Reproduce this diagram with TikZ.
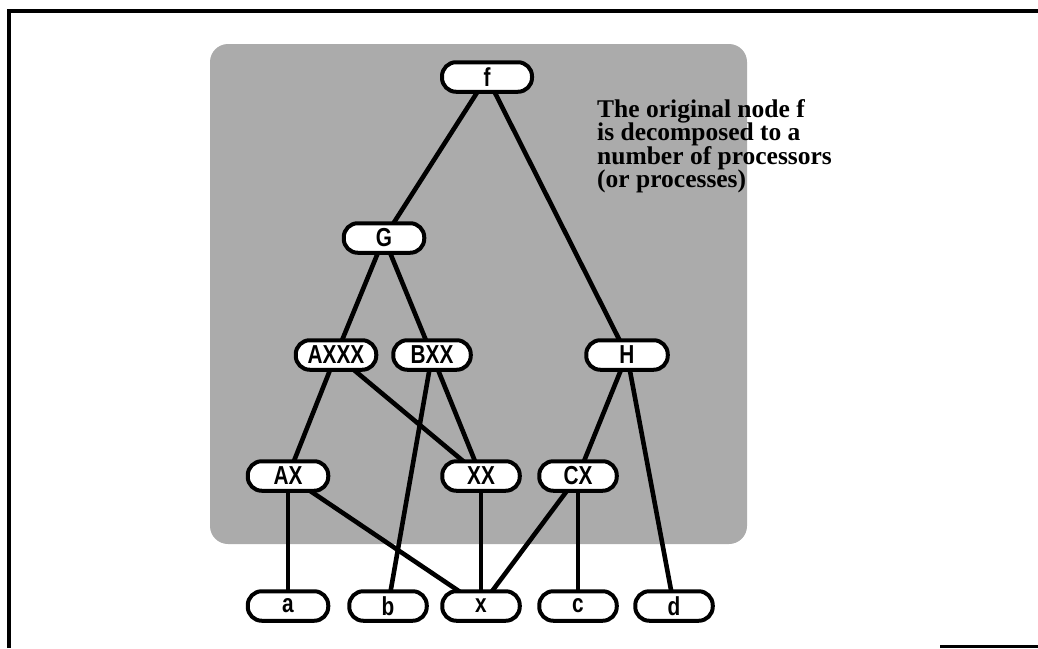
\documentclass[tikz,border=0pt]{standalone}
\usepackage{fontspec}
\setmainfont{Liberation Serif}
\newfontfamily\labelfont[FakeStretch=0.8]{Liberation Sans}
\usetikzlibrary{backgrounds}
\tikzset{
  proc/.style={draw=black, fill=white, line width=4pt, rounded corners=14pt,
    minimum height=29.5pt, minimum width=77.5pt, inner sep=0pt,
    font=\labelfont\bfseries\fontsize{26}{26}\selectfont},
  link/.style={line width=4.6pt},
  frameline/.style={line width=4pt},
}
\begin{document}
\begin{tikzpicture}[x=1pt,y=-1pt]
\useasboundingbox (0,0) rectangle (1038,648);
% frame
\draw[frameline] (9,648) -- (9,11) -- (1038,11);
\draw[line width=3pt] (940,646) -- (1038,646);
% nodes
\node[proc, minimum width=90pt] (f) at (487,77) {f};
\node[proc, minimum width=80.5pt] (G) at (384,238) {G};
\node[proc, minimum width=80.5pt] (AXXX) at (336,355) {AXXX};
\node[proc] (BXX) at (432,355) {BXX};
\node[proc, minimum width=81.5pt] (H) at (627,355) {H};
\node[proc, minimum width=80.5pt] (AX) at (288,476) {AX};
\node[proc] (XX) at (481,476) {XX};
\node[proc] (CX) at (578,476) {CX};
\node[proc, minimum width=80.5pt] (a) at (288,606) {a};
\node[proc] (b) at (388,606) {b};
\node[proc] (x) at (481,606) {x};
\node[proc] (c) at (578,606) {c};
\node[proc] (d) at (674,606) {d};
% text
\node[anchor=north west, inner sep=0pt, align=left,
      font=\bfseries\fontsize{25.5}{23.5}\selectfont] (note) at (597,99)
  {The original node f\\is decomposed to a\\number of processors\\(or processes)};
% shaded region and links
\begin{scope}[on background layer]
\fill[black!33, rounded corners=18pt] (210,44) rectangle (747,544);
\draw[link] (f.center) -- (G.center);
\draw[link] (f.center) -- (H.center);
\draw[link] (G.center) -- (AXXX.center);
\draw[link] (G.center) -- (BXX.center);
\draw[link] (AXXX.center) -- (AX.center);
\draw[link] (AXXX.center) -- (XX.center);
\draw[link] (BXX.center) -- (XX.center);
\draw[link] (BXX.center) -- (b.center);
\draw[link] (H.center) -- (CX.center);
\draw[link] (H.center) -- (d.center);
\draw[link, line width=3.2pt] (AX.center) -- (a.center);
\draw[link] (AX.center) -- (x.center);
\draw[link, line width=3.2pt] (XX.center) -- (x.center);
\draw[link] (CX.center) -- (x.center);
\draw[link, line width=3.2pt] (CX.center) -- (c.center);
\end{scope}
\end{tikzpicture}
\end{document}
